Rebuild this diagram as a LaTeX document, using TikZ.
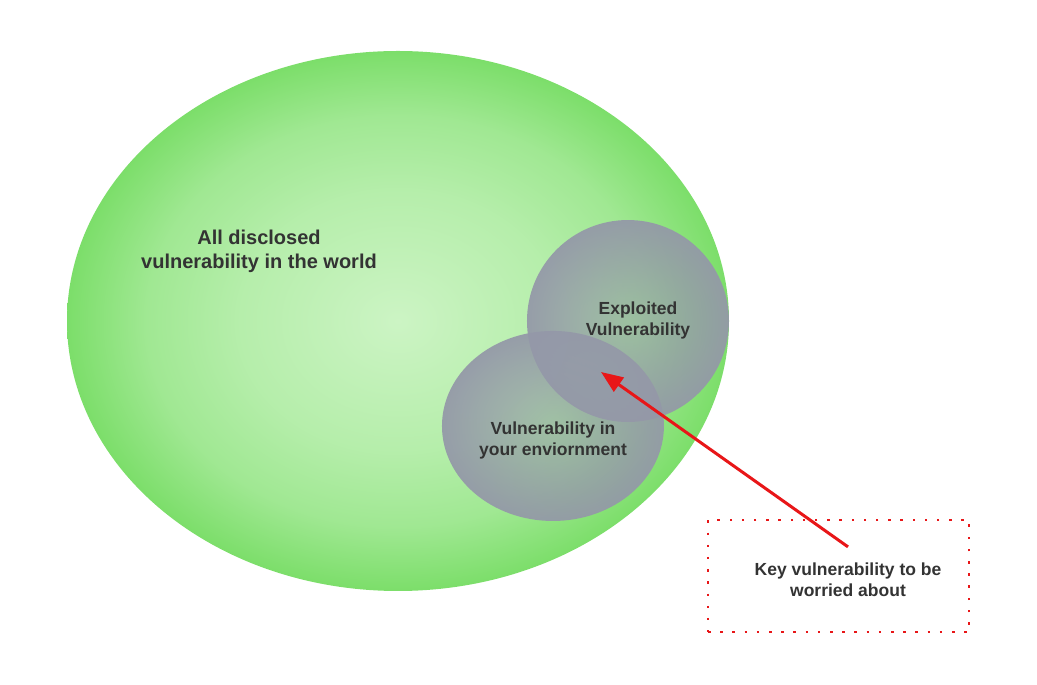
\documentclass[tikz,border=0pt]{standalone}
\usepackage{fontspec}
\setmainfont{Liberation Sans}
\usetikzlibrary{positioning}
\usetikzlibrary{arrows.meta}
\usetikzlibrary{fadings}
\definecolor{worldin}{RGB}{204,244,196}
\definecolor{worldout}{RGB}{124,222,106}
\definecolor{vgray}{RGB}{148,152,168}
\definecolor{keyred}{RGB}{232,22,24}
\definecolor{txt}{RGB}{51,51,51}
\pgfdeclareradialshading{worldshade}{\pgfpoint{0bp}{0bp}}{%
  color(0bp)=(worldin); color(12bp)=(worldin!72!worldout);
  color(19bp)=(worldin!45!worldout); color(25bp)=(worldout); color(50bp)=(worldout)}
\tikzfading[name=rimfade, inner color=transparent!50, outer color=transparent!6]
\tikzset{lbl/.style={align=center,text=txt,font=\bfseries\fontsize{17.5}{21}\selectfont}}
\tikzset{bublbl/.style={lbl,font=\bfseries\fontsize{20}{24}\selectfont}}
\tikzset{vset/.style={fill=vgray,path fading=rimfade}}
\tikzset{>={Triangle[length=22pt,width=17pt]}}

\begin{document}
\begin{tikzpicture}[x=1pt,y=1pt]
\useasboundingbox (0,0) rectangle (1037,685);
\shade[shading=worldshade] (398,364) ellipse [x radius=331pt, y radius=270pt];
\fill[vset] (628,364) circle [radius=101pt];
\fill[vset] (553,259) ellipse [x radius=111pt, y radius=95pt];

\node (world) [bublbl] at (259,434) {All disclosed\\vulnerability in the world};
\node (expl) [lbl] at (638,365) {Exploited\\Vulnerability};
\node (env) [lbl] at (553,245) {Vulnerability in\\your enviornment};
\node (key) [lbl, inner sep=0pt] at (848,105) {Key vulnerability to be\\worried about};
\node (keybox) [draw=keyred, line width=2.5pt, dash pattern=on 2.5pt off 9.7pt,
  minimum width=261pt, minimum height=112pt] at (838.5,109) {};
\coordinate (hot) at (601,313);

\draw[->, keyred, line width=3pt] ([yshift=16pt]key.north) -- (hot);
\end{tikzpicture}
\end{document}
